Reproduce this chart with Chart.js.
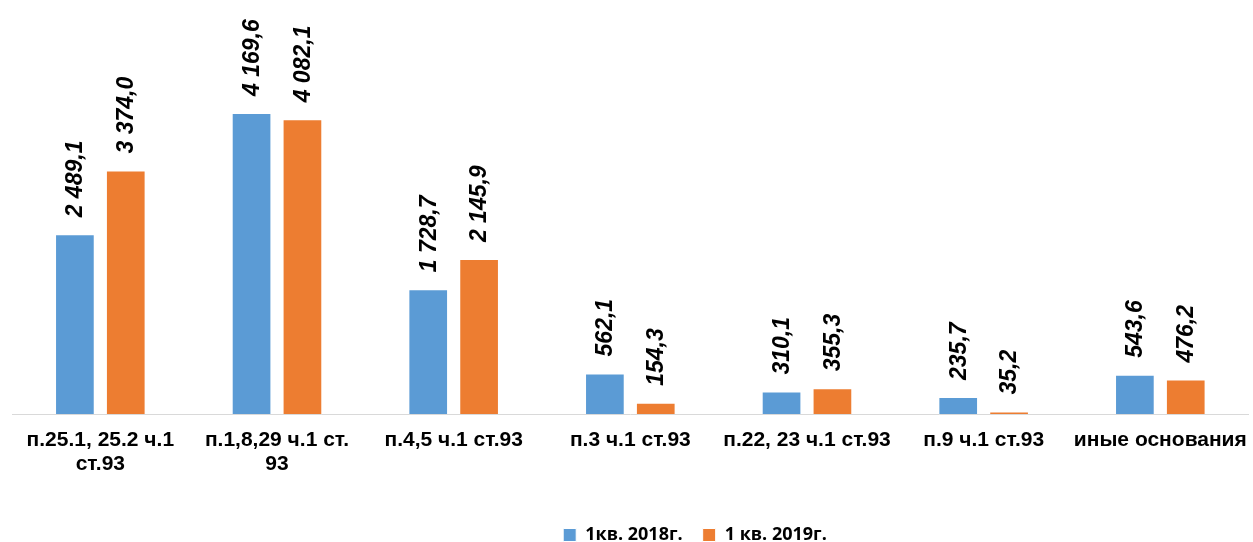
<!DOCTYPE html>
<html>
<head>
<meta charset="utf-8">
<script src="https://cdn.jsdelivr.net/npm/chart.js@4"></script>
<style>
  html, body { margin: 0; padding: 0; background: #fff; }
  #wrap { width: 1253px; height: 542px; }
</style>
</head>
<body>
<div id="wrap"><canvas id="chart" width="1253" height="542"></canvas></div>
<script>
const categories = [
  ["п.25.1, 25.2 ч.1", "ст.93"],
  ["п.1,8,29 ч.1 ст.", "93"],
  "п.4,5 ч.1 ст.93",
  "п.3 ч.1 ст.93",
  "п.22, 23 ч.1 ст.93",
  "п.9 ч.1 ст.93",
  "иные основания"
];
const values2018 = [2489.1, 4169.6, 1728.7, 562.1, 310.1, 235.7, 543.6];
const values2019 = [3374.0, 4082.1, 2145.9, 154.3, 355.3, 35.2, 476.2];
const seriesNames = ["1кв. 2018г.", "1 кв. 2019г."];

function fmt(v) {
  const parts = v.toFixed(1).split(".");
  const int = parts[0].replace(/\B(?=(\d{3})+(?!\d))/g, " ");
  return int + "," + parts[1];
}

// vertical value labels above the bars
const valueLabels = {
  id: "valueLabels",
  afterDatasetsDraw(chart) {
    const ctx = chart.ctx;
    ctx.save();
    ctx.font = "italic bold 23px 'Liberation Sans', Arial, sans-serif";
    ctx.fillStyle = "#000";
    ctx.textAlign = "left";
    ctx.textBaseline = "middle";
    chart.data.datasets.forEach((ds, i) => {
      chart.getDatasetMeta(i).data.forEach((bar, j) => {
        ctx.save();
        ctx.translate(bar.x + 1, bar.y - 17);
        ctx.rotate(-Math.PI / 2);
        ctx.fillText(fmt(ds.data[j]), 0, 0);
        ctx.restore();
      });
    });
    ctx.restore();
  }
};

// legend in the original sits a bit right of centre
const shiftLegend = {
  id: "shiftLegend",
  afterLayout(chart) {
    if (chart.legend) {
      chart.legend.left += 64;
      chart.legend.right += 64;
    }
  }
};

Chart.defaults.font.family = "'Liberation Sans', Arial, sans-serif";
Chart.defaults.font.size = 21;
Chart.defaults.font.weight = "bold";
Chart.defaults.color = "#000";

new Chart(document.getElementById("chart"), {
  type: "bar",
  data: {
    labels: categories,
    datasets: [
      {
        label: seriesNames[0],
        data: values2018,
        backgroundColor: "#5B9BD5",
        borderColor: "#ffffff",
        borderWidth: 1
      },
      {
        label: seriesNames[1],
        data: values2019,
        backgroundColor: "#ED7D31",
        borderColor: "#ffffff",
        borderWidth: 1
      }
    ]
  },
  options: {
    responsive: false,
    animation: false,
    layout: { padding: { left: 12, right: 3, top: 0, bottom: -12 } },
    datasets: {
      bar: { categoryPercentage: 0.576, barPercentage: 0.78 }
    },
    scales: {
      x: {
        grid: { display: false },
        border: { display: true, color: "#d9d9d9", width: 1 },
        afterFit(scale) { scale.height = 92; },
        ticks: {
          color: "#000",
          padding: 6,
          maxRotation: 0,
          autoSkip: false,
          font: { size: 21, weight: "bold", lineHeight: 1.15 }
        }
      },
      y: {
        display: false,
        min: 0,
        max: 5735
      }
    },
    plugins: {
      tooltip: { enabled: false },
      legend: {
        position: "bottom",
        labels: {
          color: "#000",
          boxWidth: 13,
          boxHeight: 13,
          padding: 20,
          font: { family: "'Open Sans', sans-serif", size: 18, weight: "bold" }
        }
      }
    }
  },
  plugins: [valueLabels, shiftLegend]
});
</script>
</body>
</html>
